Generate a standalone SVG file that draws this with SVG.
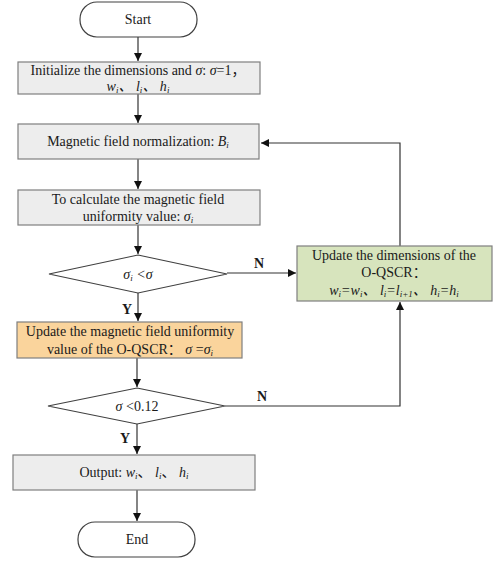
<svg xmlns="http://www.w3.org/2000/svg" width="494" height="563" viewBox="0 0 494 563">
<style>
.box{fill:#ededed;stroke:#7f7f7f;stroke-width:1.2}
.term{fill:#fff;stroke:#404040;stroke-width:1.2}
.dia{fill:#fff;stroke:#404040;stroke-width:1.2}
.green{fill:#d7e4bd;stroke:#7f7f7f;stroke-width:1.2}
.orange{fill:#fad49c;stroke:#7f7f7f;stroke-width:1.2}
text{font-family:"Liberation Serif","Times New Roman","Noto Sans CJK SC",serif;font-size:14px;fill:#1a1a1a;text-anchor:middle}
.i{font-style:italic}
.b{font-weight:bold}
.c line,.c polyline{stroke:#333;stroke-width:1.2;fill:none;marker-end:url(#ah)}
</style>
<defs>
<marker id="ah" viewBox="0 0 10 10" refX="10" refY="5" markerWidth="8" markerHeight="8" markerUnits="userSpaceOnUse" orient="auto">
<path d="M0,0 L10,5 L0,10 z" fill="#111"/>
</marker>
</defs>
<g id="connectors" class="c">
<line x1="138" y1="37" x2="138" y2="61"/>
<line x1="138" y1="94" x2="138" y2="123"/>
<line x1="138" y1="158" x2="138" y2="189"/>
<line x1="138" y1="225" x2="138" y2="254"/>
<line x1="138" y1="293" x2="138" y2="321"/>
<line x1="137" y1="358" x2="137" y2="387"/>
<line x1="137" y1="424" x2="137" y2="454"/>
<line x1="137" y1="490" x2="137" y2="521"/>
<line x1="227" y1="273" x2="296" y2="273"/>
<polyline points="225,406 400,406 400,302"/>
<polyline points="400,246 400,143 261,143"/>
</g>
<g id="start"><rect class="term" x="80" y="2" width="117" height="35" rx="17"/><text x="138" y="24">Start</text></g>
<g id="init"><rect class="box" x="18" y="62" width="242" height="32"/>
<text x="138" y="75">Initialize the dimensions and <tspan class="i">σ</tspan>: <tspan class="i">σ</tspan>=1，</text>
<text x="138" y="91" class="i">w<tspan font-size="9" dy="2">i</tspan><tspan dy="-2">、 l</tspan><tspan font-size="9" dy="2">i</tspan><tspan dy="-2">、 h</tspan><tspan font-size="9" dy="2">i</tspan></text></g>
<g id="normalize"><rect class="box" x="18" y="124" width="241" height="35"/>
<text x="138" y="146">Magnetic field normalization: <tspan class="i">B</tspan><tspan class="i" font-size="9" dy="2">i</tspan></text></g>
<g id="calc"><rect class="box" x="18" y="190" width="242" height="35"/>
<text x="138" y="204">To calculate the magnetic field</text>
<text x="138" y="221">uniformity value: <tspan class="i">σ</tspan><tspan class="i" font-size="9" dy="2">i</tspan></text></g>
<g id="dec1"><polygon class="dia" points="138,255 227,274 138,293 49,274"/>
<text x="138" y="279" class="i">σ<tspan font-size="9" dy="2">i</tspan><tspan dy="-2"> &lt;σ</tspan></text></g>
<g id="updsigma"><rect class="orange" x="17" y="322" width="225" height="36"/>
<text x="130" y="336">Update the magnetic field uniformity</text>
<text x="130" y="354">value of the O-QSCR：<tspan class="i"> σ </tspan>=<tspan class="i">σ</tspan><tspan class="i" font-size="9" dy="2">i</tspan></text></g>
<g id="dec2"><polygon class="dia" points="137,388 225,406 137,424 48,406"/>
<text x="137" y="411"><tspan class="i">σ</tspan> &lt;0.12</text></g>
<g id="updim"><rect class="green" x="297" y="246" width="195" height="55"/>
<text x="394" y="260">Update the dimensions of the</text>
<text x="394" y="277">O-QSCR：</text>
<text x="394" y="295" class="i">w<tspan font-size="9" dy="2">i</tspan><tspan dy="-2">=w</tspan><tspan font-size="9" dy="2">i</tspan><tspan dy="-2">、 l</tspan><tspan font-size="9" dy="2">i</tspan><tspan dy="-2">=l</tspan><tspan font-size="9" dy="2">i+1</tspan><tspan dy="-2">、 h</tspan><tspan font-size="9" dy="2">i</tspan><tspan dy="-2">=h</tspan><tspan font-size="9" dy="2">i</tspan></text></g>
<g id="output"><rect class="box" x="13" y="455" width="242" height="35"/>
<text x="134" y="477">Output: <tspan class="i">w</tspan><tspan class="i" font-size="9" dy="2">i</tspan><tspan dy="-2">、 </tspan><tspan class="i">l</tspan><tspan class="i" font-size="9" dy="2">i</tspan><tspan dy="-2">、 </tspan><tspan class="i">h</tspan><tspan class="i" font-size="9" dy="2">i</tspan></text></g>
<g id="end"><rect class="term" x="78" y="522" width="117" height="35" rx="17"/><text x="137" y="544">End</text></g>
<g id="labels">
<text x="259" y="268" class="b">N</text>
<text x="127" y="314" class="b">Y</text>
<text x="262" y="401" class="b">N</text>
<text x="125" y="443" class="b">Y</text>
</g>
</svg>
